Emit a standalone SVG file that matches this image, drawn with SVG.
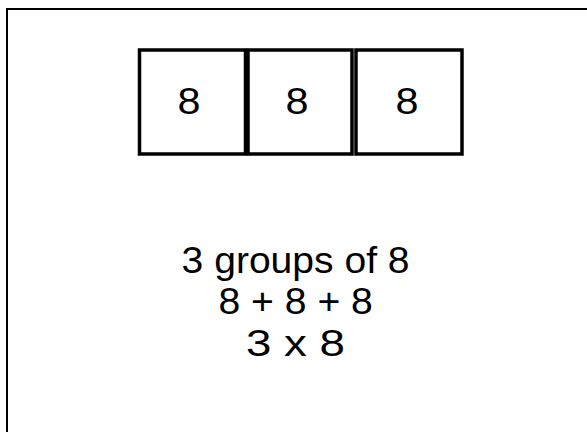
<svg xmlns="http://www.w3.org/2000/svg" width="587" height="432" viewBox="0 0 587 432">
<style>
.box{fill:#fff;stroke:#000;stroke-width:3.5}
.t{font-family:"Liberation Sans",Arial,sans-serif;fill:#000}
.n{font-size:37px;text-anchor:middle}
.l{font-size:36px}
</style>
<rect width="587" height="432" fill="#fff"/>
<path d="M7,432 V9 H587" fill="none" stroke="#000" stroke-width="2"/>
<g id="box1"><rect class="box" x="139.5" y="50" width="106" height="104"/><text class="t n" x="189" y="114" textLength="23" lengthAdjust="spacingAndGlyphs">8</text></g>
<g id="box2"><rect class="box" x="248" y="50" width="104" height="104"/><text class="t n" x="297" y="114" textLength="23" lengthAdjust="spacingAndGlyphs">8</text></g>
<g id="box3"><rect class="box" x="356" y="50" width="106" height="104"/><text class="t n" x="407" y="114" textLength="23" lengthAdjust="spacingAndGlyphs">8</text></g>
<g id="labels">
<text class="t l" x="181.6" y="273" textLength="228" lengthAdjust="spacingAndGlyphs">3 groups of 8</text>
<text class="t l" x="218.4" y="314" textLength="154.5" lengthAdjust="spacingAndGlyphs">8 + 8 + 8</text>
<text class="t l" x="246" y="356" textLength="99" lengthAdjust="spacingAndGlyphs">3 x 8</text>
</g>
</svg>
